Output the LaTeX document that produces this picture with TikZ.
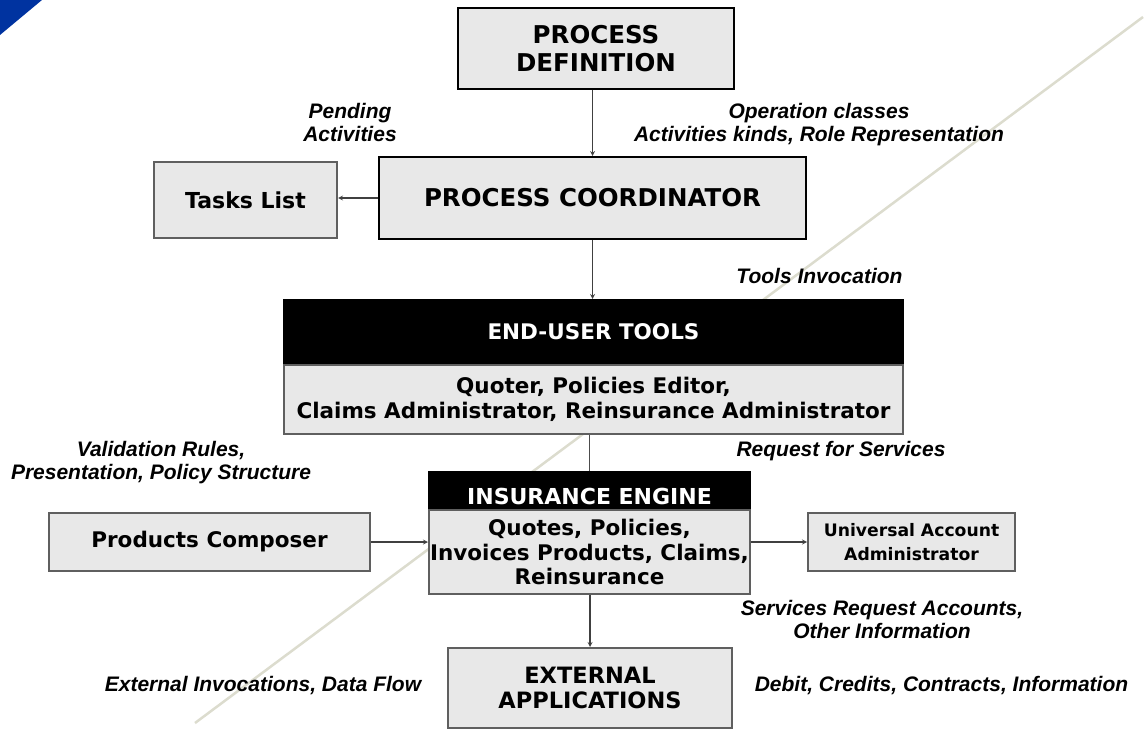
\documentclass[tikz,border=0pt]{standalone}
\usepackage{fontspec}
\newfontfamily\verdanalike{DejaVu Sans}
\newfontfamily\arialike{Liberation Sans}
\usetikzlibrary{positioning,arrows}
\definecolor{boxgray}{RGB}{232,232,232}
\definecolor{edgegray}{RGB}{95,95,95}
\definecolor{watermark}{RGB}{220,220,206}
\definecolor{cornerblue}{RGB}{0,51,160}

\begin{document}
\begin{tikzpicture}[x=1pt,y=-1pt,>=stealth,
  box/.style={draw=edgegray, fill=boxgray, line width=2pt, align=center, inner sep=0pt,
    font=\verdanalike\bfseries\fontsize{21.5}{24.5}\selectfont},
  title box/.style={box, draw=black, font=\verdanalike\bfseries\fontsize{24.5}{28}\selectfont},
  head box/.style={fill=black, draw=black, line width=2pt, text=white, align=center, inner sep=0pt,
    font=\verdanalike\bfseries\fontsize{21.5}{24}\selectfont},
  flow label/.style={align=center, inner sep=0pt, font=\arialike\bfseries\itshape\fontsize{21}{23}\selectfont}]

  \useasboundingbox (0,0) rectangle (1147,730);
  \fill[cornerblue] (0,0) -- (42,0) -- (0,35) -- cycle;
  \draw[watermark, line width=2.5pt] (1143,17) -- (195,723);

  \node[title box, minimum width=276pt, minimum height=81pt] (def) at (596,48.5) {PROCESS\\DEFINITION};
  \node[title box, minimum width=427pt, minimum height=82pt] (coord) at (592.5,198) {PROCESS COORDINATOR};
  \node[box, minimum width=183pt, minimum height=76pt, font=\verdanalike\bfseries\fontsize{22}{26}\selectfont] (tasks) at (245.5,200) {Tasks List};

  \node[head box, minimum width=619pt, minimum height=63pt] (toolshead) at (593.5,331.5) {END-USER TOOLS};
  \node[box, minimum width=619pt, minimum height=69pt, below=0pt of toolshead] (tools)
    {Quoter, Policies Editor,\\Claims Administrator, Reinsurance Administrator};

  \node[head box, minimum width=321pt, text height=30.5pt, text depth=2.5pt, inner ysep=1.5pt,
    font=\verdanalike\bfseries\fontsize{22}{24}\selectfont] (enginehead) at (589.5,490) {INSURANCE ENGINE};
  \node[box, minimum width=321pt, minimum height=84pt, below=0pt of enginehead] (engine)
    {Quotes, Policies,\\Invoices Products, Claims,\\Reinsurance};

  \node[box, minimum width=321pt, minimum height=58pt] (composer) at (209.5,542) {Products Composer};
  \node[box, minimum width=207pt, minimum height=58pt, font=\verdanalike\bfseries\fontsize{17.2}{24.5}\selectfont] (account) at (911.5,542) {Universal Account\\Administrator};
  \node[box, minimum width=284pt, minimum height=80pt, font=\verdanalike\bfseries\fontsize{22.5}{25}\selectfont] (external) at (590,688) {EXTERNAL\\APPLICATIONS};

  % flow labels
  \node[flow label] (pending) at (350,122) {Pending\\Activities};
  \node[flow label] (opclass) at (819,124.5) {Operation classes\\Activities kinds, Role Representation};
  \node[flow label] (invoke) at (819.5,276) {Tools Invocation};
  \node[flow label] (rules) at (161,463) {Validation Rules,\\Presentation, Policy Structure};
  \node[flow label] (request) at (841,451) {Request for Services};
  \node[flow label] (services) at (882,619) {Services Request Accounts,\\Other Information};
  \node[flow label] (extinv) at (263,686) {External Invocations, Data Flow};
  \node[flow label] (debit) at (941.5,686) {Debit, Credits, Contracts, Information};

  \path[->, black!75, line width=1.2pt]
    (coord.north |- def.south) edge (coord.north)
    (coord.south) edge (coord.south |- toolshead.north)
    (coord.west) edge (tasks.east |- coord.west)
    (composer.east) edge (composer.east -| engine.west)
    (engine.east |- account.west) edge (account.west)
    (engine.south -| external.north) edge (external.north)
  ;
  \path[black!70, line width=1.5pt]
    (enginehead.north |- tools.south) edge (enginehead.north)
  ;
\end{tikzpicture}
\end{document}
